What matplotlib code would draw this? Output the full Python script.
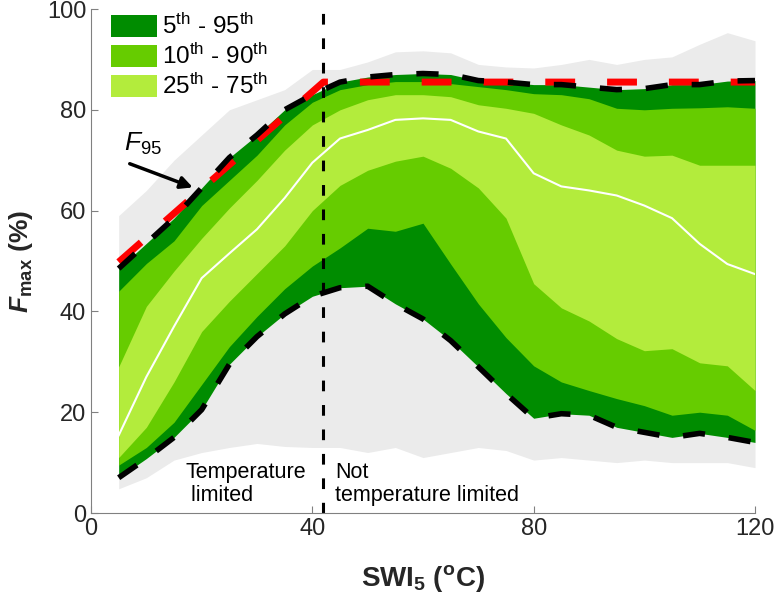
import numpy as np
import matplotlib
matplotlib.use('Agg')
import matplotlib.pyplot as plt
from matplotlib.patches import Patch

plt.rcParams['font.family'] = ['Liberation Sans', 'DejaVu Sans']
plt.rcParams['mathtext.fontset'] = 'custom'
plt.rcParams['mathtext.rm'] = 'Liberation Sans'
plt.rcParams['mathtext.it'] = 'Liberation Sans:italic'
plt.rcParams['mathtext.bf'] = 'Liberation Sans:bold'
plt.rcParams['mathtext.bfit'] = 'Liberation Sans:italic:bold'

# ======================
# data
# ======================
swi = [5, 10, 15, 20, 25, 30, 35, 40, 45, 50, 55, 60,
       65, 70, 75, 80, 85, 90, 95, 100, 105, 110, 115, 120]

p_max = [59, 64, 70, 75, 80, 82, 84, 88, 88, 89.5, 91.5, 91.7,
         91.3, 89, 88.5, 88.3, 89, 90, 89, 90, 90.5, 93, 95.3, 93.7]
p95 = [48.5, 53.5, 58.5, 64.5, 70.5, 75, 80, 83, 85.5, 86.5, 87, 87.2,
       87, 85.8, 85.5, 85, 85, 84.5, 84, 84.2, 85, 85, 85.7, 85.8]
p90 = [44, 49.5, 54, 61, 66, 71, 77, 81.5, 84, 85, 85.6, 85.6,
       85.2, 84.6, 84, 83.2, 83, 82.2, 80.3, 80, 80.3, 80.4, 80.6, 80.3]
p75 = [29, 41, 48, 54.5, 60.5, 66, 72, 77, 80, 82, 83, 83,
       82.6, 81, 80.3, 79.3, 77, 75, 72, 70.8, 71, 69, 69, 69]
p50 = [15.4, 27, 37, 46.6, 51.5, 56.3, 62.5, 69.5, 74.3, 76, 78, 78.3,
       78, 75.7, 74.3, 67.4, 64.8, 64, 63, 61, 58.5, 53.4, 49.4, 47.4]
p25 = [11, 17, 26, 36, 42, 47.5, 53, 60, 65, 68, 69.8, 70.8,
       68.4, 64.5, 58.5, 45.5, 40.7, 38.1, 34.6, 32.2, 32.6, 29.8, 29.2, 24.3]
p10 = [9.5, 13, 18, 25.5, 33, 39, 44.5, 49, 52.6, 56.5, 55.9, 57.5,
       49.4, 41.5, 34.8, 29.2, 26, 24.3, 22.7, 21.3, 19.4, 20, 19.4, 16.4]
p05 = [7, 10.8, 15, 20.5, 29.5, 35, 39.5, 43, 44.7, 45, 41.5, 38.5,
       34.2, 29, 23.7, 18.8, 19.7, 19.4, 17, 16, 15, 15.8, 15, 14]
p_min = [4.8, 7, 10.5, 12, 13, 13.8, 13.2, 13, 13, 12, 13, 11,
         12, 13, 12.4, 10.5, 11, 10.5, 10, 10.5, 10, 10, 10, 9]

# F95 fit (piecewise)
f95_x = [5, 42, 120]
f95_y = [49.8, 85.5, 85.5]

swi_break = 42

legend_labels = ['5$^{\\rm th}$ - 95$^{\\rm th}$',
                 '10$^{\\rm th}$ - 90$^{\\rm th}$',
                 '25$^{\\rm th}$ - 75$^{\\rm th}$']

# colours
c_grey = '#ebebeb'
c_dark = '#008c00'
c_mid = '#66cc00'
c_light = '#b3ec3c'

# ======================
# plot
# ======================
fig = plt.figure(figsize=(7.75, 5.99), dpi=100)
ax = fig.add_axes([91 / 775, 1 - 513 / 599, 664 / 775, 504 / 599])

ax.fill_between(swi, p_min, p_max, color=c_grey, lw=0)
ax.fill_between(swi, p05, p95, color=c_dark, lw=0)
ax.fill_between(swi, p10, p90, color=c_mid, lw=0)
ax.fill_between(swi, p25, p75, color=c_light, lw=0)
ax.plot(swi, p50, color='white', lw=1.5)

ax.plot(f95_x, f95_y, color='red', lw=5, dashes=(4.3, 4.6), solid_capstyle='butt')
ax.plot(swi, p95, color='black', lw=4, dashes=(4, 4.3))
ax.plot(swi, p05, color='black', lw=4, dashes=(4, 4.3))

ax.plot([swi_break, swi_break], [0, 100], color='black', lw=2.2, dashes=(3.5, 4.5))

ax.text(17, 5.7, 'Temperature\n limited', fontsize=15.5, ha='left', va='center',
        linespacing=1.1)
ax.text(44.1, 5.7, 'Not\ntemperature limited', fontsize=15.5, ha='left', va='center',
        linespacing=1.1)

ax.text(6.0, 71.8, r'$F_{95}$', fontsize=19, ha='left', va='baseline')
ax.annotate('', xy=(18.4, 64.6), xytext=(7.0, 69.3),
            arrowprops=dict(arrowstyle='-|>', color='black', lw=2.5,
                            mutation_scale=18, shrinkA=0, shrinkB=0))

handles = [Patch(facecolor=c, edgecolor='none') for c in (c_dark, c_mid, c_light)]
ax.legend(handles, legend_labels, loc='upper left', bbox_to_anchor=(0.03, 0.99),
          frameon=False, fontsize=17.5, handlelength=1.9, handleheight=1.05,
          handletextpad=0.2, labelspacing=0.2, borderpad=0, borderaxespad=0)

ax.set_xlim(0, 120)
ax.set_ylim(0, 100)
ax.set_xticks([0, 40, 80, 120])
ax.set_yticks([0, 20, 40, 60, 80, 100])
ax.tick_params(direction='in', length=5, labelsize=17, colors='#808080',
               labelcolor='#262626')
ax.spines['top'].set_visible(False)
ax.spines['right'].set_visible(False)
ax.spines['left'].set_color('#808080')
ax.spines['bottom'].set_color('#808080')

ax.set_xlabel(r'SWI$_{\mathbf{5}}$ ($^{\mathbf{o}}$C)', fontsize=20,
              fontweight='bold', color='#262626')
ax.set_ylabel(r'$\mathbfit{F}_{\mathbf{max}}$ (%)', fontsize=19,
              fontweight='bold', color='#262626')
ax.xaxis.set_label_coords(0.5, -0.1)
ax.yaxis.set_label_coords(-0.085, 0.5)

plt.savefig('out.png', dpi=100)
